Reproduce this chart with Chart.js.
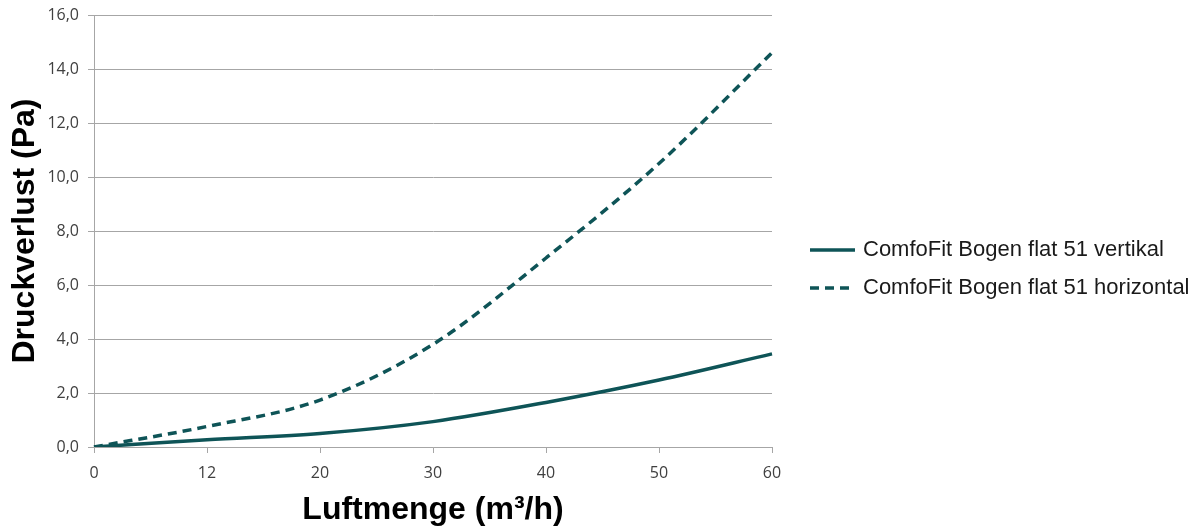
<!DOCTYPE html>
<html>
<head>
<meta charset="utf-8">
<script src="https://cdn.jsdelivr.net/npm/chart.js@4"></script>
<style>
  html, body { margin: 0; padding: 0; background: #fff; }
  #wrap { width: 1196px; height: 532px; }
</style>
</head>
<body>
<div id="wrap"><canvas id="druckChart"></canvas></div>
<script>
// --- data ---
const airflowLabels = ["0", "12", "20", "30", "40", "50", "60"];
const vertikalValues = [0.0, 0.27, 0.5, 0.94, 1.65, 2.48, 3.45];
const horizontalValues = [0.0, 0.76, 1.74, 3.8, 7.0, 10.5, 14.6];
const seriesNames = ["ComfoFit Bogen flat 51 vertikal", "ComfoFit Bogen flat 51 horizontal"];

const lineColor = "#0e5457";
const gridColor = "#a6a6a6";
const tickFont = { family: "'Open Sans', 'DejaVu Sans', sans-serif", size: 16 };

// legend drawn on the right, lines + text
const sideLegend = {
  id: "sideLegend",
  afterDraw(chart) {
    const ctx = chart.ctx;
    const area = chart.chartArea;
    const x0 = area.right + 38;
    const midY = (area.top + area.bottom) / 2;
    ctx.save();
    chart.data.datasets.forEach((ds, i) => {
      const y = midY + 19 + i * 38;
      ctx.beginPath();
      ctx.strokeStyle = ds.borderColor;
      ctx.lineWidth = ds.borderWidth;
      ctx.setLineDash(ds.borderDash || []);
      ctx.moveTo(x0, y);
      ctx.lineTo(x0 + 45, y);
      ctx.stroke();
      ctx.setLineDash([]);
      ctx.fillStyle = "#1a1a1a";
      ctx.font = "22px 'Liberation Sans', Arial, sans-serif";
      ctx.textBaseline = "middle";
      ctx.fillText(ds.label, x0 + 53, y);
    });
    ctx.restore();
  },
};

document.addEventListener("DOMContentLoaded", () => {
  const canvas = document.getElementById("druckChart");
  new Chart(canvas, {
    type: "line",
    data: {
      labels: airflowLabels,
      datasets: [
        {
          label: seriesNames[0],
          data: vertikalValues,
          borderColor: lineColor,
          borderWidth: 3.5,
          pointRadius: 0,
          cubicInterpolationMode: "monotone",
          fill: false,
        },
        {
          label: seriesNames[1],
          data: horizontalValues,
          borderColor: lineColor,
          borderWidth: 3.5,
          borderDash: [9, 6],
          pointRadius: 0,
          cubicInterpolationMode: "monotone",
          fill: false,
        },
      ],
    },
    options: {
      responsive: true,
      maintainAspectRatio: false,
      animation: false,
      layout: {
        padding: { top: 15, right: 424, left: 0, bottom: 0 },
      },
      plugins: {
        legend: { display: false },
        tooltip: { enabled: false },
      },
      scales: {
        x: {
          type: "category",
          offset: false,
          grid: {
            display: true,
            drawOnChartArea: false,
            color: gridColor,
            tickLength: 6,
          },
          border: { color: gridColor },
          ticks: {
            color: "#404040",
            font: tickFont,
            padding: 11,
            maxRotation: 0,
          },
          title: {
            display: true,
            text: "Luftmenge (m³/h)",
            color: "#000",
            font: { family: "'Liberation Sans', Arial, sans-serif", size: 32, weight: "bold" },
            padding: { top: 0, bottom: 3 },
          },
          afterFit(scale) {
            scale.height = 532 - 447;
          },
        },
        y: {
          min: 0,
          max: 16,
          grid: {
            color: gridColor,
            tickLength: 6,
          },
          border: { color: gridColor },
          ticks: {
            stepSize: 2,
            color: "#404040",
            font: tickFont,
            padding: 9,
            callback: (v) => v.toFixed(1).replace(".", ","),
          },
          title: {
            display: true,
            text: "Druckverlust (Pa)",
            color: "#000",
            font: { family: "'Liberation Sans', Arial, sans-serif", size: 32, weight: "bold" },
            padding: { top: 6, bottom: 0 },
          },
          afterFit(scale) {
            scale.width = 94;
            scale.paddingTop = 0;
          },
        },
      },
    },
    plugins: [sideLegend],
  });
});
</script>
</body>
</html>
